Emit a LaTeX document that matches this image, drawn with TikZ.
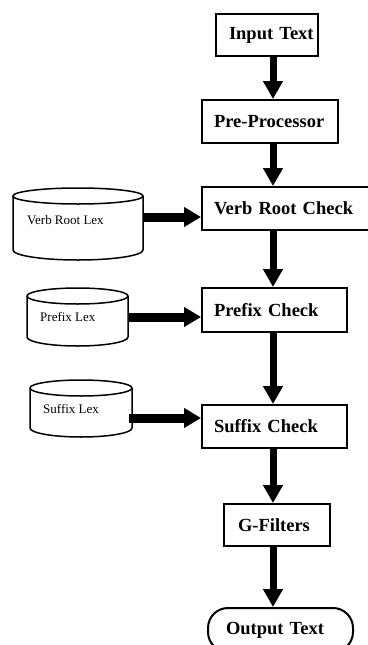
\documentclass[tikz,border=0pt]{standalone}
\usepackage{fontspec}
\setmainfont{Liberation Serif}
\usetikzlibrary{arrows.meta}

\tikzset{
  stagebox/.style={draw, line width=2pt, anchor=north west, align=left,
    inner ysep=0pt, font=\fontsize{18.5}{21}\selectfont\bfseries},
  lexlabel/.style={anchor=west, inner sep=0pt, font=\fontsize{13}{15}\selectfont},
  lexdrum/.style={draw, line width=1.5pt},
  varrow/.style={line width=7pt, -{Triangle[width=19pt,length=18pt]}},
  harrow/.style={line width=9pt, -{Triangle[width=19pt,length=17pt]}}
}

\begin{document}
\begin{tikzpicture}[x=1pt, y=-1pt]
\useasboundingbox (0,0) rectangle (367,645);

% main processing chain
\node[stagebox, text width=76pt, inner xsep=13pt, minimum height=42pt]
  (inp) at (215,13) {Input~Text};
\node[stagebox, text width=112pt, inner xsep=12pt, minimum height=43pt]
  (pre) at (201,99) {Pre-Processor};
\node[stagebox, text width=146pt, inner xsep=12pt, minimum height=43pt]
  (vrc) at (201,186) {Verb~Root~Check};
\node[stagebox, text width=121pt, inner xsep=12pt, minimum height=44pt]
  (pfx) at (201,287) {Prefix~Check};
\node[stagebox, text width=121pt, inner xsep=12pt, minimum height=43pt]
  (sfx) at (201,404) {Suffix~Check};
\node[stagebox, text width=78pt, inner xsep=14pt, minimum height=42pt]
  (gf) at (223,503) {G-Filters};
\node[stagebox, rounded corners=20pt, text width=109pt, inner xsep=18pt, minimum height=44pt]
  (out) at (207,607) {Output~Text};

% lexicon drums
\draw[lexdrum] (78,196) ellipse [x radius=65pt, y radius=8pt];
\draw[lexdrum] (13,196) -- (13,250) arc [start angle=180, end angle=360, x radius=65pt, y radius=10pt] -- (143,196);
\node[lexlabel] (vrl) at (27,220) {Verb Root Lex};
\coordinate (vrlR) at (143,217);

\draw[lexdrum] (77.5,296) ellipse [x radius=50.5pt, y radius=8pt];
\draw[lexdrum] (27,296) -- (27,337) arc [start angle=180, end angle=360, x radius=50.5pt, y radius=9pt] -- (128,296);
\node[lexlabel] (pfl) at (40,317) {Prefix Lex};
\coordinate (pflR) at (128,317);

\draw[lexdrum] (81,388) ellipse [x radius=51pt, y radius=8pt];
\draw[lexdrum] (30,388) -- (30,428) arc [start angle=180, end angle=360, x radius=51pt, y radius=9pt] -- (132,388);
\node[lexlabel] (sfl) at (43,409) {Suffix Lex};
\coordinate (sflR) at (129,418);

% flow arrows
\coordinate (axis) at (273,0);
\draw[varrow] (inp.south -| axis) -- (pre.north -| axis);
\draw[varrow] (pre.south -| axis) -- (vrc.north -| axis);
\draw[varrow] (vrc.south -| axis) -- (pfx.north -| axis);
\draw[varrow] (pfx.south -| axis) -- (sfx.north -| axis);
\draw[varrow] (sfx.south -| axis) -- (gf.north -| axis);
\draw[varrow] (gf.south -| axis) -- (out.north -| axis);

\draw[harrow] (vrlR) -- (vrc.west |- vrlR);
\draw[harrow] (pflR) -- (pfx.west |- pflR);
\draw[harrow] (sflR) -- (sfx.west |- sflR);
\end{tikzpicture}
\end{document}
